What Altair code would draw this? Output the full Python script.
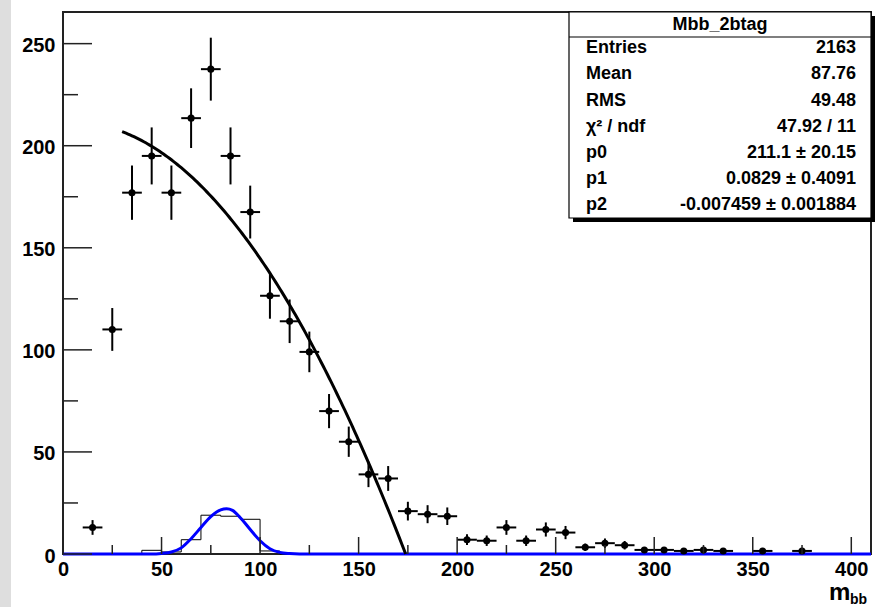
import altair as alt
import numpy as np
import pandas as pd

FONT = "Liberation Sans"

# Data histogram: bin centres (10 GeV bins) and entries
bin_centers = [15, 25, 35, 45, 55, 65, 75, 85, 95, 105, 115, 125, 135, 145,
               155, 165, 175, 185, 195, 205, 215, 225, 235, 245, 255, 265,
               275, 285, 295, 305, 315, 325, 335, 355, 375]
bin_counts = [13, 110, 177, 195, 177, 213.5, 237.5, 195, 167.5, 126.5, 114,
              99, 70, 55, 39, 37, 21, 19.5, 18.5, 7, 6.5, 13, 6.5, 12, 10.5,
              3.3, 5.3, 4.3, 2, 2, 1.5, 2, 1.5, 1.5, 1.5]

# Signal template histogram: bin lower edges and contents
sig_edges = [30, 40, 50, 60, 70, 80, 90, 100, 110, 120]
sig_counts = [0, 1.8, 1.0, 7.0, 19.0, 18.5, 17.0, 1.5, 0, 0]

# Signal shape curve
gaus_x = [0, 45, 50, 55, 60, 65, 70, 75, 80, 83, 86, 90, 95, 100, 105, 110, 115, 120, 410]
gaus_y = [0, 0, 0.3, 1.0, 3.0, 7.5, 13.0, 18.3, 21.6, 22.2, 21.4, 17.8, 12.0, 6.5, 2.6, 0.8, 0.2, 0, 0]

# Fit parameters (pol2), shown in the stats box
p0, p1, p2 = 211.1, 0.0829, -0.007459
fit_lo = 30.0

# Stats box contents
stat_title = "Mbb_2btag"
stat_labels = ["Entries", "Mean", "RMS", "χ² / ndf", "p0", "p1", "p2"]
stat_values = ["2163", "87.76", "49.48", "47.92 / 11", "211.1 ± 20.15",
               "0.0829 ± 0.4091", "-0.007459 ± 0.001884"]

# Axis tick values
x_major = [0, 50, 100, 150, 200, 250, 300, 350, 400]
x_minor = [25, 75, 125, 175, 225, 275, 325, 375]
y_major = [0, 50, 100, 150, 200, 250]
y_minor = [25, 75, 125, 175, 225]

X_DOMAIN = [0, 410]
Y_DOMAIN = [0, 265.5]
W, H = 808, 542

xscale = alt.Scale(domain=X_DOMAIN, nice=False, zero=False)
yscale = alt.Scale(domain=Y_DOMAIN, nice=False, zero=False)

label_style = dict(labelFont=FONT, labelFontWeight="bold", labelFontSize=20,
                   labelColor="black", ticks=False, domain=False, grid=False,
                   labelFlush=False, labelOverlap=False, title=None)
xaxis = alt.Axis(values=x_major, labelPadding=5, **label_style)
yaxis = alt.Axis(values=y_major, labelPadding=8, labelOffset=2, **label_style)


def X(field, **kw):
    return alt.X(field, type="quantitative", scale=xscale, axis=xaxis, **kw)


def Y(field, **kw):
    return alt.Y(field, type="quantitative", scale=yscale, axis=yaxis, **kw)


one = pd.DataFrame({"k": [0]})

# Grey strip at the left edge of the canvas
strip = alt.Chart(one).mark_rect(color="#dedede").encode(
    x=alt.value(-63), x2=alt.value(-52), y=alt.value(-12), y2=alt.value(595))

# Data points with Poisson errors
pts = pd.DataFrame({"m": bin_centers, "n": bin_counts})
base = alt.Chart(pts).transform_calculate(
    lo="datum.m - 5", hi="datum.m + 5",
    elo="datum.n - sqrt(datum.n)", ehi="datum.n + sqrt(datum.n)")
xerr = base.mark_rule(color="black", strokeWidth=2).encode(
    x=X("lo"), x2="hi", y=Y("n"))
yerr = base.mark_rule(color="black", strokeWidth=2).encode(
    x=X("m"), y=Y("elo"), y2="ehi")
dots = base.mark_circle(color="black", opacity=1, size=50).encode(
    x=X("m"), y=Y("n"))

# Signal template histogram outline
sig = pd.DataFrame({"m": sig_edges, "n": sig_counts})
sig_hist = alt.Chart(sig).mark_line(
    color="black", strokeWidth=1, interpolate="step-after").encode(
    x=X("m"), y=Y("n"))

# Signal shape
gaus = pd.DataFrame({"m": gaus_x, "n": gaus_y})
gaus_line = alt.Chart(gaus).mark_line(
    color="#0000ff", strokeWidth=3, interpolate="monotone").encode(
    x=X("m"), y=Y("n"))

# pol2 fit, drawn down to where it crosses zero
fit_hi = (-p1 - np.sqrt(p1 ** 2 - 4 * p2 * p0)) / (2 * p2)
fx = np.append(np.arange(fit_lo, fit_hi, 1.0), fit_hi)
fy = np.clip(p0 + p1 * fx + p2 * fx ** 2, 0, None)
fit = pd.DataFrame({"m": fx, "n": fy})
fit_line = alt.Chart(fit).mark_line(color="black", strokeWidth=3).encode(
    x=X("m"), y=Y("n"))

# Inward-pointing tick marks
def yticks(vals, length):
    return alt.Chart(pd.DataFrame({"v": vals})).mark_rule(
        color="#222", strokeWidth=1.5).encode(
        x=alt.value(0), x2=alt.value(length), y=Y("v"))


def xticks(vals, length):
    return alt.Chart(pd.DataFrame({"v": vals})).mark_rule(
        color="#222", strokeWidth=1.5).encode(
        x=X("v"), y=alt.value(H), y2=alt.value(H - length))


ticks = [yticks(y_major, 29), yticks(y_minor, 15),
         xticks(x_major, 17), xticks(x_minor, 9)]

# Stats box
bx0, bx1, by0, by1 = 506, 808, 0, 206
shadow = alt.Chart(one).mark_rect(color="black").encode(
    x=alt.value(bx0 + 4), x2=alt.value(bx1 + 4),
    y=alt.value(by0 + 4), y2=alt.value(by1 + 4))
box = alt.Chart(one).mark_rect(fill="white", stroke="black", strokeWidth=1.2).encode(
    x=alt.value(bx0), x2=alt.value(bx1), y=alt.value(by0), y2=alt.value(by1))
sep = alt.Chart(one).mark_rule(color="black", strokeWidth=1.2).encode(
    x=alt.value(bx0), x2=alt.value(bx1), y=alt.value(25))
title_txt = alt.Chart(one).mark_text(
    font=FONT, fontWeight="bold", fontSize=18, align="center",
    baseline="middle", color="black").encode(
    x=alt.value((bx0 + bx1) / 2), y=alt.value(13), text=alt.value(stat_title))

stats = pd.DataFrame({"i": list(range(len(stat_labels))),
                      "label": stat_labels, "value": stat_values})
sbase = alt.Chart(stats).transform_calculate(py="36.3 + 26.1 * datum.i")
stat_lab = sbase.mark_text(font=FONT, fontWeight="bold", fontSize=18,
                           align="left", baseline="middle", color="black").encode(
    x=alt.value(523), y=alt.Y("py:Q", scale=None), text="label:N")
stat_val = sbase.mark_text(font=FONT, fontWeight="bold", fontSize=18,
                           align="right", baseline="middle", color="black").encode(
    x=alt.value(793), y=alt.Y("py:Q", scale=None), text="value:N")

# x-axis title m_bb
m_txt = alt.Chart(one).mark_text(font=FONT, fontWeight="bold", fontSize=24,
                                 align="left", baseline="alphabetic",
                                 color="black").encode(
    x=alt.value(766), y=alt.value(588), text=alt.value("m"))
bb_txt = alt.Chart(one).mark_text(font=FONT, fontWeight="bold", fontSize=14,
                                  align="left", baseline="alphabetic",
                                  color="black").encode(
    x=alt.value(787), y=alt.value(592), text=alt.value("bb"))

chart = alt.layer(
    strip, sig_hist, gaus_line, fit_line, xerr, yerr, dots, *ticks,
    shadow, box, sep, title_txt, stat_lab, stat_val, m_txt, bb_txt
).properties(
    width=W, height=H, autosize="none",
    padding={"left": 63, "top": 12, "right": 15, "bottom": 53},
    background="white"
).configure_view(stroke="#222", strokeWidth=2)

chart.save("out.html", embed_options={"renderer": "svg", "actions": False})
